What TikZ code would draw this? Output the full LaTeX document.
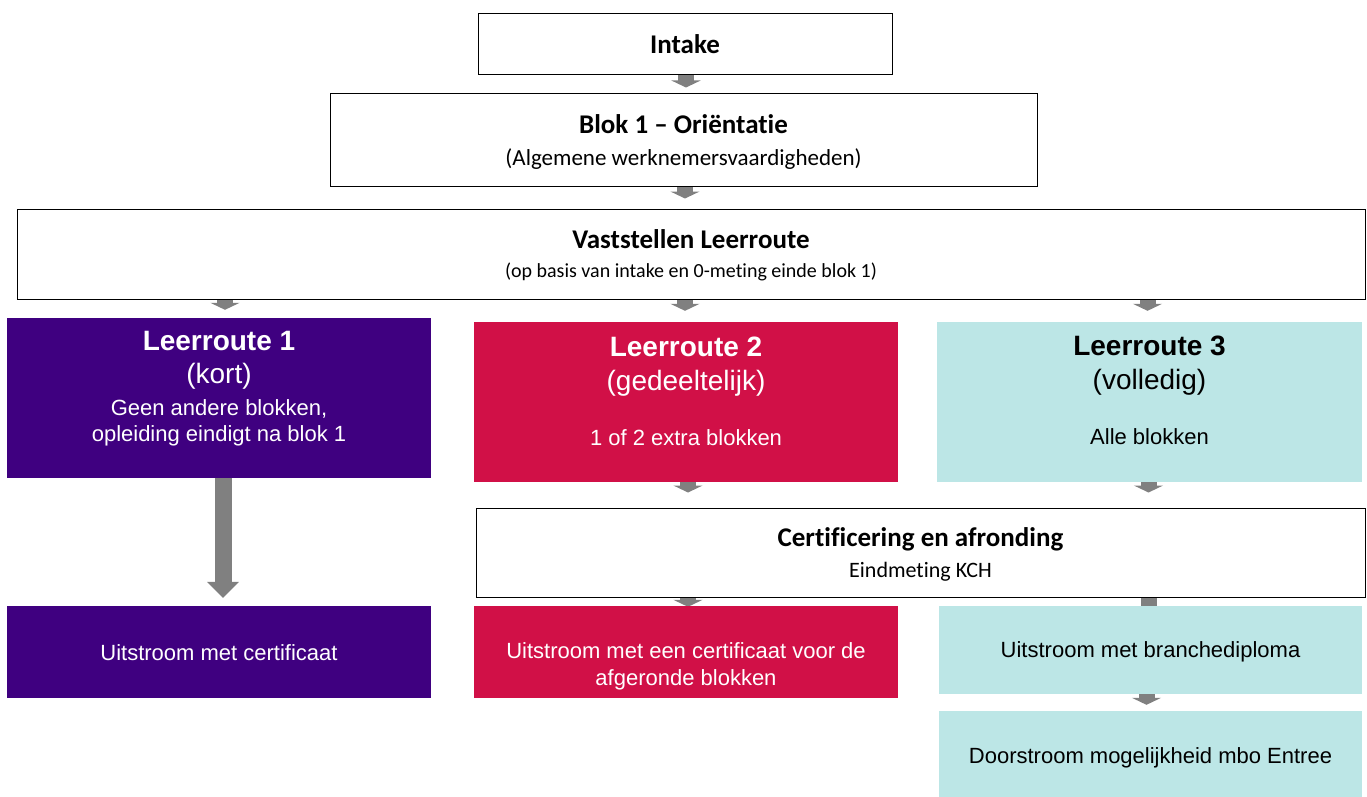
\documentclass[tikz,border=0pt]{standalone}
\usepackage{fontspec}
\setmainfont[Ligatures=NoCommon]{Carlito}
\newfontfamily\arialf{Liberation Sans}
\usetikzlibrary{arrows.meta}
\definecolor{lpurple}{HTML}{3F0080}
\definecolor{lcrimson}{HTML}{D11047}
\definecolor{lcyan}{HTML}{BCE6E6}
\definecolor{agray}{HTML}{808080}
\pgfdeclarelayer{bg}
\pgfsetlayers{bg,main}
\tikzset{
  wbox/.style={draw=black, line width=1pt, fill=white, inner sep=0pt, align=center, text depth=0pt, font=\fontsize{23}{27}\selectfont},
  cbox/.style={draw=none, inner sep=0pt},
  pbox/.style={cbox, fill=lpurple},
  rbox/.style={cbox, fill=lcrimson},
  tbox/.style={cbox, fill=lcyan},
  ctext/.style={inner sep=0pt, align=center, font=\arialf\fontsize{22}{26}\selectfont},
  wtext/.style={ctext, text=white},
  ktext/.style={ctext, text=black},
  sarrow/.style={agray, line width=16pt, -{Triangle[width=29pt,length=7pt]}},
  barrow/.style={agray, line width=17pt, -{Triangle[width=31pt,length=16pt]}},
}
\newcommand{\tbig}[1]{{\bfseries\fontsize{27}{31}\selectfont #1}}
\newcommand{\lbig}[1]{{\bfseries\fontsize{28}{32}\selectfont #1}}
\newcommand{\lmid}[1]{{\fontsize{28}{32}\selectfont #1}}
\begin{document}
\begin{tikzpicture}[x=1pt,y=-1pt]
\useasboundingbox (0,0) rectangle (1367,797);
% white boxes
\node[wbox, minimum width=414pt, minimum height=61pt] (intake) at (685,44.5) {\tbig{Intake}};
\node[wbox, minimum width=707pt, minimum height=92pt] (blok) at (683.5,140) {\tbig{Blok 1 – Oriëntatie}\\[5pt](Algemene werknemersvaardigheden)};
\node[wbox, minimum width=1348pt, minimum height=90pt] (vast) at (691,254) {\tbig{Vaststellen Leerroute}\\[2pt]{\fontsize{20}{24}\selectfont (op basis van intake en 0-meting einde blok 1)}};
% leerroutes
\node[pbox, minimum width=424pt, minimum height=160pt] (l1) at (219,398) {};
\node[wtext] (l1t) at ([yshift=9pt]l1.center) {\lbig{Leerroute 1}\\[7pt]\lmid{(kort)}\\[6pt]Geen andere blokken,\\opleiding eindigt na blok 1};
\node[rbox, minimum width=424pt, minimum height=160pt] (l2) at (686,402) {};
\node[wtext] (l2t) at ([yshift=11pt]l2.center) {\lbig{Leerroute 2}\\[8pt]\lmid{(gedeeltelijk)}\\[29pt]1 of 2 extra blokken};
\node[tbox, minimum width=425pt, minimum height=160pt] (l3) at (1149.5,402) {};
\node[ktext] (l3t) at ([yshift=12pt]l3.center) {\lbig{Leerroute 3}\\[8pt]\lmid{(volledig)}\\[29pt]Alle blokken};
% certificering
\node[wbox, minimum width=889pt, minimum height=89pt] (cert) at (920.5,552.5) {\tbig{Certificering en afronding}\\[4pt]{\fontsize{22}{26}\selectfont Eindmeting KCH}};
% uitstroom
\node[pbox, minimum width=424pt, minimum height=92pt] (u1) at (219,652) {};
\node[wtext] (u1t) at ([yshift=-1pt]u1.center) {Uitstroom met certificaat};
\node[rbox, minimum width=424pt, minimum height=92pt] (u2) at (686,652) {};
\node[wtext] (u2t) at ([yshift=-14pt]u2.center) {Uitstroom met een certificaat voor de\\[1pt]afgeronde blokken};
\node[tbox, minimum width=423pt, minimum height=88pt] (u3) at (1150.5,650) {};
\node[ktext] (u3t) at ([yshift=-2pt]u3.center) {Uitstroom met branchediploma};
\node[tbox, minimum width=423pt, minimum height=86pt] (door) at (1150.5,754) {};
\node[ktext] (doort) at ([yshift=-4pt]door.center) {Doorstroom mogelijkheid mbo Entree};
% arrows
\begin{pgfonlayer}{bg}
\fill[white] (0,0) rectangle (1367,797);
\draw[sarrow, shorten >=6pt] ([xshift=1pt]intake.south) -- ([xshift=1pt]blok.north -| intake.south);
\draw[sarrow, shorten >=10pt] ([xshift=1.5pt]blok.south) -- ([xshift=1.5pt]vast.north -| blok.south);
\draw[sarrow, shorten >=8pt] (vast.south -| l1.north) ++(6,0) coordinate (v1) (v1) -- (v1 |- l1.north);
\draw[sarrow, shorten >=11pt] (vast.south -| intake.south) -- (l2.north -| intake.south);
\draw[sarrow, shorten >=11pt] (vast.south -| l3.north) ++(-2,0) coordinate (v3) (v3) -- (v3 |- l3.north);
\draw[barrow, shorten >=8pt] ([xshift=4pt]l1.south) -- ([xshift=4pt]u1.north);
\draw[sarrow, shorten >=15pt] ([xshift=2pt]l2.south) -- ([xshift=2pt]l2.south |- cert.north);
\draw[sarrow, shorten >=15pt] ([xshift=-1pt]l3.south) -- ([xshift=-1pt]l3.south |- cert.north);
\draw[sarrow, shorten >=-1pt] ([xshift=2pt]u2.north |- cert.south) -- ([xshift=2pt]u2.north);
\draw[sarrow, shorten >=-12pt] ([xshift=-2pt]u3.north |- cert.south) -- ([xshift=-2pt]u3.north);
\draw[sarrow, shorten >=6pt] ([xshift=-4pt]u3.south) -- ([xshift=-4pt]door.north);
\end{pgfonlayer}
\end{tikzpicture}
\end{document}
